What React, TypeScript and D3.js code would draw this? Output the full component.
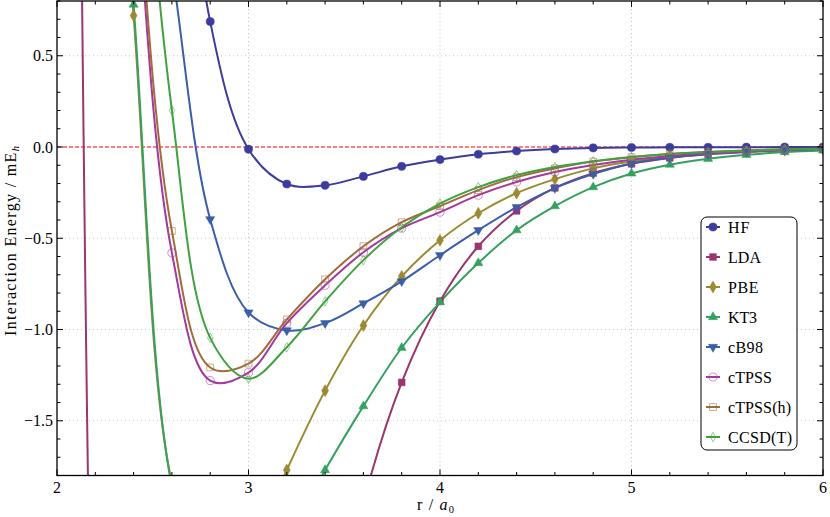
import * as d3 from "d3";

// bond distance grid (r / a0), one marker every 0.2
const R = [2.0, 2.2, 2.4, 2.6, 2.8, 3.0, 3.2, 3.4, 3.6, 3.8, 4.0, 4.2, 4.4, 4.6, 4.8, 5.0, 5.2, 5.4, 5.6, 5.8, 6.0];

const HF = [30, 16, 7.0, 2.6, 0.687, -0.012, -0.203, -0.21, -0.161, -0.106, -0.069, -0.04, -0.022, -0.011, -0.005, -0.003, -0.002, -0.0015, -0.001, -0.0005, -0.0003];
const LDA = [24, -4.0, -9.0, -7.8, -6.6, -5.6, -4.3, -2.95, -1.95, -1.29, -0.845, -0.544, -0.35, -0.224, -0.143, -0.092, -0.06, -0.04, -0.027, -0.018, -0.012];
const PBE = [12, 3.8, 0.72, -1.84, -2.4, -2.25, -1.77, -1.335, -0.978, -0.709, -0.511, -0.363, -0.253, -0.176, -0.117, -0.08, -0.054, -0.037, -0.025, -0.017, -0.011];
const KT3 = [14, 3.9, 0.78, -1.86, -2.5, -2.45, -2.15, -1.77, -1.42, -1.1, -0.85, -0.636, -0.456, -0.324, -0.22, -0.145, -0.097, -0.065, -0.043, -0.028, -0.019];
const CB98 = [10, 5, 2.4, 0.98, -0.396, -0.907, -1.005, -0.965, -0.857, -0.736, -0.593, -0.456, -0.33, -0.225, -0.148, -0.09, -0.058, -0.038, -0.025, -0.016, -0.01];
const CTPSS = [15, 5.5, 1.68, -0.58, -1.28, -1.236, -0.965, -0.758, -0.577, -0.445, -0.357, -0.264, -0.192, -0.137, -0.099, -0.07, -0.049, -0.034, -0.024, -0.016, -0.011];
const CTPSSH = [15, 5.6, 1.78, -0.46, -1.208, -1.187, -0.945, -0.725, -0.544, -0.412, -0.324, -0.236, -0.165, -0.117, -0.08, -0.056, -0.039, -0.027, -0.019, -0.013, -0.009];
const CCSDT = [18, 7.5, 2.6, 0.2, -1.046, -1.27, -1.097, -0.846, -0.62, -0.44, -0.31, -0.22, -0.154, -0.11, -0.078, -0.055, -0.038, -0.027, -0.019, -0.013, -0.009];

const X_TICKS = [2, 3, 4, 5, 6];
const Y_TICKS = [0.5, 0.0, -0.5, -1.0, -1.5];

type Sym = "circle" | "square" | "diamond" | "up" | "down";

const SERIES: { name: string; values: number[]; color: string; symbol: Sym; open: boolean }[] = [
  { name: "HF", values: HF, color: "#3d3b9b", symbol: "circle", open: false },
  { name: "LDA", values: LDA, color: "#9a356e", symbol: "square", open: false },
  { name: "PBE", values: PBE, color: "#9a8b33", symbol: "diamond", open: false },
  { name: "KT3", values: KT3, color: "#36a060", symbol: "up", open: false },
  { name: "cB98", values: CB98, color: "#3a5ea8", symbol: "down", open: false },
  { name: "cTPSS", values: CTPSS, color: "#a5389c", symbol: "circle", open: true },
  { name: "cTPSS(h)", values: CTPSSH, color: "#a06c3c", symbol: "square", open: true },
  { name: "CCSD(T)", values: CCSDT, color: "#40a23f", symbol: "diamond", open: true },
];

// text widths as measured on the reference (Times-like metrics)
const LEGEND_WIDTHS = [21.5, 33, 30.5, 29, 35, 44, 63, 64];

const W = 830;
const H = 517;
const left = 57;
const right = 823;
const top = 1;
const bottom = 475.5;

const x = d3.scaleLinear().domain([2, 6]).range([left, right]);
const y = d3.scaleLinear().domain([-1.8, 0.8]).range([bottom, top]);

const FONT = "'Liberation Serif', 'Times New Roman', Times, serif";

function symbolPath(s: Sym, open: boolean) {
  const type =
    s === "circle" ? d3.symbolCircle
    : s === "square" ? d3.symbolSquare
    : s === "diamond" ? d3.symbolDiamond
    : d3.symbolTriangle;
  let size = s === "circle" ? 52 : s === "square" ? 46 : s === "diamond" ? 42 : 36;
  if (open && s === "diamond") size = 26;
  return d3.symbol(type, size)() as string;
}

function Marker({ s, open, color, cx, cy }: { s: Sym; open: boolean; color: string; cx: number; cy: number }) {
  const rot = s === "down" ? " rotate(180)" : "";
  return (
    <path
      d={symbolPath(s, open)}
      transform={`translate(${cx},${cy})${rot}`}
      fill={open ? "none" : color}
      stroke={color}
      strokeOpacity={open ? 0.55 : 1}
      strokeWidth={open ? 1 : 0.5}
    />
  );
}

export default function App() {
  const line = d3
    .line<number>()
    .x((_, i) => x(R[i]))
    .y((d) => y(d))
    .curve(d3.curveCatmullRom.alpha(0.5));

  const xMinor = d3.range(2, 6.0001, 0.2);
  const yMinor = d3.range(-1.8, 0.8001, 0.1);

  const legX = 701;
  const legY = 217;

  return (
    <svg width={W} height={H} style={{ position: "absolute", left: 0, top: 0, fontFamily: FONT }}>
      <rect width={W} height={H} fill="white" />
      <defs>
        <clipPath id="plot">
          <rect x={left} y={top} width={right - left} height={bottom - top} />
        </clipPath>
      </defs>

      {/* grid */}
      {[3, 4, 5].map((v) => (
        <line key={"gx" + v} x1={x(v)} x2={x(v)} y1={top} y2={bottom} stroke="#c8c8c8" strokeWidth={1} strokeDasharray="1,3" />
      ))}
      {[0.5, -0.5, -1.0, -1.5].map((v) => (
        <line key={"gy" + v} x1={left} x2={right} y1={y(v)} y2={y(v)} stroke="#c8c8c8" strokeWidth={1} strokeDasharray="1,3" />
      ))}
      <line x1={left} x2={right} y1={y(0)} y2={y(0)} stroke="#ff0000" strokeWidth={1} strokeDasharray="4,2" />

      <g clipPath="url(#plot)">
        {SERIES.map((s) => (
          <path key={s.name} d={line(s.values) as string} fill="none" stroke={s.color} strokeWidth={2} />
        ))}
        {SERIES.map((s) =>
          s.values.map((v, i) => (
            <Marker key={s.name + i} s={s.symbol} open={s.open} color={s.color} cx={x(R[i])} cy={y(v)} />
          ))
        )}
      </g>

      {/* frame */}
      <rect x={left} y={top} width={right - left} height={bottom - top} fill="none" stroke="#000" strokeWidth={1.3} />

      {/* ticks */}
      {xMinor.map((v, i) => {
        const major = Math.abs(v - Math.round(v)) < 1e-6;
        const len = major ? 6 : 3.5;
        return (
          <g key={"xt" + i}>
            <line x1={x(v)} x2={x(v)} y1={bottom} y2={bottom - len} stroke="#000" strokeWidth={1} />
            <line x1={x(v)} x2={x(v)} y1={top} y2={top + len} stroke="#000" strokeWidth={1} />
          </g>
        );
      })}
      {yMinor.map((v, i) => {
        const major = Math.abs(v * 2 - Math.round(v * 2)) < 1e-6;
        const len = major ? 6 : 3.5;
        return (
          <g key={"yt" + i}>
            <line x1={left} x2={left + len} y1={y(v)} y2={y(v)} stroke="#000" strokeWidth={1} />
            <line x1={right} x2={right - len} y1={y(v)} y2={y(v)} stroke="#000" strokeWidth={1} />
          </g>
        );
      })}

      {/* tick labels */}
      {X_TICKS.map((v) => (
        <text key={"xl" + v} x={x(v)} y={493} textAnchor="middle" fontSize={16} fill="#000">
          {v}
        </text>
      ))}
      {Y_TICKS.map((v) => (
        <text key={"yl" + v} x={53} y={y(v) + 5.5} textAnchor="end" fontSize={16} fill="#000">
          {v < 0 ? "\u2212" + Math.abs(v).toFixed(1) : v.toFixed(1)}
        </text>
      ))}

      {/* axis labels */}
      <text x={417} y={510} fontSize={16} fill="#000" textLength={37} lengthAdjust="spacing">
        r / <tspan fontStyle="italic">a</tspan>
        <tspan fontSize={10.5} dy={3}>0</tspan>
      </text>
      <text
        transform={`translate(16,336) rotate(-90)`}
        fontSize={16}
        fill="#000"
        textLength={190}
        lengthAdjust="spacing"
      >
        Interaction Energy / mE
        <tspan fontSize={10.5} dy={3} fontStyle="italic">h</tspan>
      </text>

      {/* legend */}
      <rect x={legX} y={legY} width={96} height={233} rx={6} ry={6} fill="white" stroke="#000" strokeWidth={1} />
      {SERIES.map((s, i) => {
        const cy = legY + 10 + i * 30;
        return (
          <g key={"lg" + s.name}>
            <line x1={legX + 5} x2={legX + 19} y1={cy} y2={cy} stroke={s.color} strokeWidth={2} />
            <Marker s={s.symbol} open={s.open} color={s.color} cx={legX + 12} cy={cy} />
            <text x={legX + 27} y={cy + 5.5} fontSize={16} fill="#000" textLength={LEGEND_WIDTHS[i]} lengthAdjust="spacing">
              {s.name}
            </text>
          </g>
        );
      })}
    </svg>
  );
}
